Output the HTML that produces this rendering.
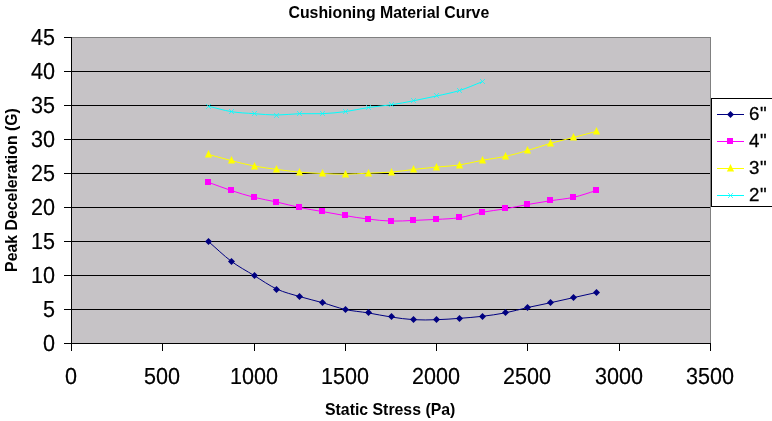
<!DOCTYPE html>
<html><head><meta charset="utf-8"><title>Cushioning Material Curve</title>
<style>
html,body{margin:0;padding:0;background:#fff;}
body{width:772px;height:421px;position:relative;overflow:hidden;font-family:"Liberation Sans",sans-serif;color:#000;}
.t{position:absolute;white-space:nowrap;line-height:1;}
.b{font-weight:bold;font-size:15.85px;}
.n{font-size:23.2px;text-rendering:geometricPrecision;transform:scaleX(0.93);transform-origin:50% 50%;-webkit-text-stroke:0.2px #000;}
.l{font-size:18.7px;letter-spacing:0.5px;-webkit-text-stroke:0.3px #000;}
.yl{text-align:right;width:60px;left:-5.5px;transform-origin:100% 50%;}
.xl{text-align:center;width:80px;}
</style></head><body>
<svg width="772" height="421" viewBox="0 0 772 421" style="position:absolute;left:0;top:0">
<rect x="71" y="37" width="640" height="307" fill="#c6c3c6"/>
<rect x="71" y="37" width="640" height="1" fill="#808080"/>
<rect x="710" y="37" width="1" height="307" fill="#808080"/>
<rect x="71" y="71" width="639" height="1" fill="#000"/>
<rect x="71" y="105" width="639" height="1" fill="#000"/>
<rect x="71" y="139" width="639" height="1" fill="#000"/>
<rect x="71" y="173" width="639" height="1" fill="#000"/>
<rect x="71" y="207" width="639" height="1" fill="#000"/>
<rect x="71" y="241" width="639" height="1" fill="#000"/>
<rect x="71" y="275" width="639" height="1" fill="#000"/>
<rect x="71" y="309" width="639" height="1" fill="#000"/>
<rect x="71" y="37" width="1" height="307" fill="#000"/>
<rect x="64" y="343" width="647" height="1" fill="#000"/>
<rect x="64" y="37" width="7" height="1" fill="#000"/>
<rect x="64" y="71" width="7" height="1" fill="#000"/>
<rect x="64" y="105" width="7" height="1" fill="#000"/>
<rect x="64" y="139" width="7" height="1" fill="#000"/>
<rect x="64" y="173" width="7" height="1" fill="#000"/>
<rect x="64" y="207" width="7" height="1" fill="#000"/>
<rect x="64" y="241" width="7" height="1" fill="#000"/>
<rect x="64" y="275" width="7" height="1" fill="#000"/>
<rect x="64" y="309" width="7" height="1" fill="#000"/>
<rect x="71" y="343" width="1" height="8" fill="#000"/>
<rect x="162" y="343" width="1" height="8" fill="#000"/>
<rect x="254" y="343" width="1" height="8" fill="#000"/>
<rect x="345" y="343" width="1" height="8" fill="#000"/>
<rect x="436" y="343" width="1" height="8" fill="#000"/>
<rect x="527" y="343" width="1" height="8" fill="#000"/>
<rect x="619" y="343" width="1" height="8" fill="#000"/>
<rect x="710" y="343" width="1" height="8" fill="#000"/>
<path d="M208.43 241.50 C216.04 248.07 223.64 255.55 231.25 261.22 C238.86 266.89 246.46 270.85 254.07 275.50 C261.68 280.15 269.29 285.59 276.89 289.10 C284.50 292.61 292.11 294.31 299.71 296.58 C307.32 298.85 314.93 300.55 322.54 302.70 C330.14 304.85 337.75 307.80 345.36 309.50 C352.96 311.20 360.57 311.65 368.18 312.90 C375.79 314.15 383.39 315.85 391.00 316.98 C398.61 318.11 406.21 319.25 413.82 319.70 C421.43 320.15 429.04 319.93 436.64 319.70 C444.25 319.47 451.86 318.91 459.46 318.34 C467.07 317.77 474.68 317.21 482.29 316.30 C489.89 315.39 497.50 314.37 505.11 312.90 C512.71 311.43 520.32 309.16 527.93 307.46 C535.54 305.76 543.14 304.34 550.75 302.70 C558.36 301.06 565.96 299.30 573.57 297.60 C581.18 295.90 588.79 294.20 596.39 292.50" fill="none" stroke="#000080" stroke-width="1"/>
<path d="M208.5 238.0l3.5 3.5l-3.5 3.5l-3.5 -3.5z" fill="#000080"/>
<path d="M231.5 258.0l3.5 3.5l-3.5 3.5l-3.5 -3.5z" fill="#000080"/>
<path d="M254.5 272.0l3.5 3.5l-3.5 3.5l-3.5 -3.5z" fill="#000080"/>
<path d="M276.5 286.0l3.5 3.5l-3.5 3.5l-3.5 -3.5z" fill="#000080"/>
<path d="M299.5 293.0l3.5 3.5l-3.5 3.5l-3.5 -3.5z" fill="#000080"/>
<path d="M322.5 299.0l3.5 3.5l-3.5 3.5l-3.5 -3.5z" fill="#000080"/>
<path d="M345.5 306.0l3.5 3.5l-3.5 3.5l-3.5 -3.5z" fill="#000080"/>
<path d="M368.5 309.0l3.5 3.5l-3.5 3.5l-3.5 -3.5z" fill="#000080"/>
<path d="M391.5 313.0l3.5 3.5l-3.5 3.5l-3.5 -3.5z" fill="#000080"/>
<path d="M413.5 316.0l3.5 3.5l-3.5 3.5l-3.5 -3.5z" fill="#000080"/>
<path d="M436.5 316.0l3.5 3.5l-3.5 3.5l-3.5 -3.5z" fill="#000080"/>
<path d="M459.5 315.0l3.5 3.5l-3.5 3.5l-3.5 -3.5z" fill="#000080"/>
<path d="M482.5 313.0l3.5 3.5l-3.5 3.5l-3.5 -3.5z" fill="#000080"/>
<path d="M505.5 309.0l3.5 3.5l-3.5 3.5l-3.5 -3.5z" fill="#000080"/>
<path d="M527.5 304.0l3.5 3.5l-3.5 3.5l-3.5 -3.5z" fill="#000080"/>
<path d="M550.5 299.0l3.5 3.5l-3.5 3.5l-3.5 -3.5z" fill="#000080"/>
<path d="M573.5 294.0l3.5 3.5l-3.5 3.5l-3.5 -3.5z" fill="#000080"/>
<path d="M596.5 289.0l3.5 3.5l-3.5 3.5l-3.5 -3.5z" fill="#000080"/>
<path d="M208.43 182.34 C216.04 185.06 223.64 188.01 231.25 190.50 C238.86 192.99 246.46 195.37 254.07 197.30 C261.68 199.23 269.29 200.36 276.89 202.06 C284.50 203.76 292.11 205.91 299.71 207.50 C307.32 209.09 314.93 210.22 322.54 211.58 C330.14 212.94 337.75 214.41 345.36 215.66 C352.96 216.91 360.57 218.15 368.18 219.06 C375.79 219.97 383.39 220.87 391.00 221.10 C398.61 221.33 406.21 220.70 413.82 220.42 C421.43 220.14 429.04 219.85 436.64 219.40 C444.25 218.95 451.86 218.89 459.46 217.70 C467.07 216.51 474.68 213.73 482.29 212.26 C489.89 210.79 497.50 210.16 505.11 208.86 C512.71 207.56 520.32 205.80 527.93 204.44 C535.54 203.08 543.14 201.89 550.75 200.70 C558.36 199.51 565.96 199.00 573.57 197.30 C581.18 195.60 588.79 192.77 596.39 190.50" fill="none" stroke="#ff00ff" stroke-width="1"/>
<rect x="205" y="179" width="6" height="6" fill="#ff00ff"/>
<rect x="228" y="187" width="6" height="6" fill="#ff00ff"/>
<rect x="251" y="194" width="6" height="6" fill="#ff00ff"/>
<rect x="273" y="199" width="6" height="6" fill="#ff00ff"/>
<rect x="296" y="204" width="6" height="6" fill="#ff00ff"/>
<rect x="319" y="208" width="6" height="6" fill="#ff00ff"/>
<rect x="342" y="212" width="6" height="6" fill="#ff00ff"/>
<rect x="365" y="216" width="6" height="6" fill="#ff00ff"/>
<rect x="388" y="218" width="6" height="6" fill="#ff00ff"/>
<rect x="410" y="217" width="6" height="6" fill="#ff00ff"/>
<rect x="433" y="216" width="6" height="6" fill="#ff00ff"/>
<rect x="456" y="214" width="6" height="6" fill="#ff00ff"/>
<rect x="479" y="209" width="6" height="6" fill="#ff00ff"/>
<rect x="502" y="205" width="6" height="6" fill="#ff00ff"/>
<rect x="524" y="201" width="6" height="6" fill="#ff00ff"/>
<rect x="547" y="197" width="6" height="6" fill="#ff00ff"/>
<rect x="570" y="194" width="6" height="6" fill="#ff00ff"/>
<rect x="593" y="187" width="6" height="6" fill="#ff00ff"/>
<path d="M208.43 154.46 C216.04 156.50 223.64 158.65 231.25 160.58 C238.86 162.51 246.46 164.55 254.07 166.02 C261.68 167.49 269.29 168.40 276.89 169.42 C284.50 170.44 292.11 171.46 299.71 172.14 C307.32 172.82 314.93 173.16 322.54 173.50 C330.14 173.84 337.75 174.24 345.36 174.18 C352.96 174.12 360.57 173.50 368.18 173.16 C375.79 172.82 383.39 172.76 391.00 172.14 C398.61 171.52 406.21 170.27 413.82 169.42 C421.43 168.57 429.04 167.78 436.64 167.04 C444.25 166.30 451.86 166.13 459.46 165.00 C467.07 163.87 474.68 161.66 482.29 160.24 C489.89 158.82 497.50 158.14 505.11 156.50 C512.71 154.86 520.32 152.59 527.93 150.38 C535.54 148.17 543.14 145.39 550.75 143.24 C558.36 141.09 565.96 139.44 573.57 137.46 C581.18 135.48 588.79 133.38 596.39 131.34" fill="none" stroke="#ffff00" stroke-width="1"/>
<path d="M208.5 150.0l3.6 7.6h-7.2z" fill="#ffff00"/>
<path d="M231.5 156.0l3.6 7.6h-7.2z" fill="#ffff00"/>
<path d="M254.5 162.0l3.6 7.6h-7.2z" fill="#ffff00"/>
<path d="M276.5 165.0l3.6 7.6h-7.2z" fill="#ffff00"/>
<path d="M299.5 168.0l3.6 7.6h-7.2z" fill="#ffff00"/>
<path d="M322.5 169.0l3.6 7.6h-7.2z" fill="#ffff00"/>
<path d="M345.5 170.0l3.6 7.6h-7.2z" fill="#ffff00"/>
<path d="M368.5 169.0l3.6 7.6h-7.2z" fill="#ffff00"/>
<path d="M391.5 168.0l3.6 7.6h-7.2z" fill="#ffff00"/>
<path d="M413.5 165.0l3.6 7.6h-7.2z" fill="#ffff00"/>
<path d="M436.5 163.0l3.6 7.6h-7.2z" fill="#ffff00"/>
<path d="M459.5 161.0l3.6 7.6h-7.2z" fill="#ffff00"/>
<path d="M482.5 156.0l3.6 7.6h-7.2z" fill="#ffff00"/>
<path d="M505.5 152.0l3.6 7.6h-7.2z" fill="#ffff00"/>
<path d="M527.5 146.0l3.6 7.6h-7.2z" fill="#ffff00"/>
<path d="M550.5 139.0l3.6 7.6h-7.2z" fill="#ffff00"/>
<path d="M573.5 133.0l3.6 7.6h-7.2z" fill="#ffff00"/>
<path d="M596.5 127.0l3.6 7.6h-7.2z" fill="#ffff00"/>
<path d="M208.43 106.18 C216.04 107.99 223.64 110.37 231.25 111.62 C238.86 112.87 246.46 113.09 254.07 113.66 C261.68 114.23 269.29 115.02 276.89 115.02 C284.50 115.02 292.11 113.89 299.71 113.66 C307.32 113.43 314.93 114.00 322.54 113.66 C330.14 113.32 337.75 112.64 345.36 111.62 C352.96 110.60 360.57 108.67 368.18 107.54 C375.79 106.41 383.39 105.95 391.00 104.82 C398.61 103.69 406.21 102.21 413.82 100.74 C421.43 99.27 429.04 97.68 436.64 95.98 C444.25 94.28 451.86 92.92 459.46 90.54 C467.07 88.16 474.68 84.65 482.29 81.70" fill="none" stroke="#00ffff" stroke-width="1"/>
<path d="M206.0 104.0l5 5m0 -5l-5 5" stroke="#00ffff" stroke-width="0.9" fill="none" opacity="0.8"/>
<path d="M229.0 109.0l5 5m0 -5l-5 5" stroke="#00ffff" stroke-width="0.9" fill="none" opacity="0.8"/>
<path d="M252.0 111.0l5 5m0 -5l-5 5" stroke="#00ffff" stroke-width="0.9" fill="none" opacity="0.8"/>
<path d="M274.0 113.0l5 5m0 -5l-5 5" stroke="#00ffff" stroke-width="0.9" fill="none" opacity="0.8"/>
<path d="M297.0 111.0l5 5m0 -5l-5 5" stroke="#00ffff" stroke-width="0.9" fill="none" opacity="0.8"/>
<path d="M320.0 111.0l5 5m0 -5l-5 5" stroke="#00ffff" stroke-width="0.9" fill="none" opacity="0.8"/>
<path d="M343.0 109.0l5 5m0 -5l-5 5" stroke="#00ffff" stroke-width="0.9" fill="none" opacity="0.8"/>
<path d="M366.0 105.0l5 5m0 -5l-5 5" stroke="#00ffff" stroke-width="0.9" fill="none" opacity="0.8"/>
<path d="M389.0 102.0l5 5m0 -5l-5 5" stroke="#00ffff" stroke-width="0.9" fill="none" opacity="0.8"/>
<path d="M411.0 98.0l5 5m0 -5l-5 5" stroke="#00ffff" stroke-width="0.9" fill="none" opacity="0.8"/>
<path d="M434.0 93.0l5 5m0 -5l-5 5" stroke="#00ffff" stroke-width="0.9" fill="none" opacity="0.8"/>
<path d="M457.0 88.0l5 5m0 -5l-5 5" stroke="#00ffff" stroke-width="0.9" fill="none" opacity="0.8"/>
<path d="M480.0 79.0l5 5m0 -5l-5 5" stroke="#00ffff" stroke-width="0.9" fill="none" opacity="0.8"/>
<rect x="711.5" y="98.5" width="80" height="108" fill="#fff" stroke="#000" stroke-width="1"/>
<rect x="717" y="114" width="27" height="1" fill="#000080"/>
<path d="M730.5 111.0l3.5 3.5l-3.5 3.5l-3.5 -3.5z" fill="#000080"/>
<rect x="717" y="141" width="27" height="1" fill="#ff00ff"/>
<rect x="727" y="138" width="6" height="6" fill="#ff00ff"/>
<rect x="717" y="168" width="27" height="1" fill="#ffff00"/>
<path d="M730.5 164.0l3.6 7.6h-7.2z" fill="#ffff00"/>
<rect x="717" y="195" width="27" height="1" fill="#00ffff"/>
<path d="M728.0 193.0l5 5m0 -5l-5 5" stroke="#00ffff" stroke-width="0.9" fill="none" opacity="0.8"/>
</svg>
<div class="t b" style="left:288.5px;top:5px;" id="title">Cushioning Material Curve</div>
<div class="t b" style="left:325px;top:402px;" id="xt">Static Stress (Pa)</div>
<div class="t b" id="yt" style="left:12px;top:189.5px;transform:translate(-50%,-50%) rotate(-90deg);">Peak Deceleration (G)</div>
<div class="t n yl" style="top:26px;">45</div>
<div class="t n yl" style="top:60px;">40</div>
<div class="t n yl" style="top:94px;">35</div>
<div class="t n yl" style="top:128px;">30</div>
<div class="t n yl" style="top:162px;">25</div>
<div class="t n yl" style="top:196px;">20</div>
<div class="t n yl" style="top:230px;">15</div>
<div class="t n yl" style="top:264px;">10</div>
<div class="t n yl" style="top:298px;">5</div>
<div class="t n yl" style="top:332px;">0</div>
<div class="t n xl" style="left:31.0px;top:365px;">0</div>
<div class="t n xl" style="left:122.3px;top:365px;">500</div>
<div class="t n xl" style="left:213.6px;top:365px;">1000</div>
<div class="t n xl" style="left:304.9px;top:365px;">1500</div>
<div class="t n xl" style="left:396.1px;top:365px;">2000</div>
<div class="t n xl" style="left:487.4px;top:365px;">2500</div>
<div class="t n xl" style="left:578.7px;top:365px;">3000</div>
<div class="t n xl" style="left:670.0px;top:365px;">3500</div>
<div class="t l" style="left:749px;top:104.9px;">6&quot;</div>
<div class="t l" style="left:749px;top:131.9px;">4&quot;</div>
<div class="t l" style="left:749px;top:158.9px;">3&quot;</div>
<div class="t l" style="left:749px;top:185.9px;">2&quot;</div>
</body></html>
